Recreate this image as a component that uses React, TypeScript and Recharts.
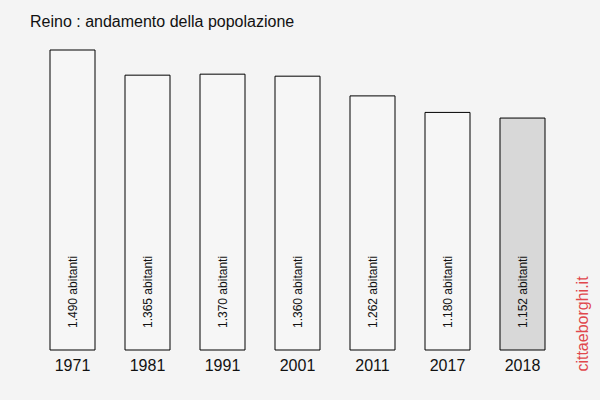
import React from 'react';
import { BarChart, Bar, XAxis, YAxis, Cell, LabelList } from 'recharts';

const years = ['1971', '1981', '1991', '2001', '2011', '2017', '2018'];
const population = [1490, 1365, 1370, 1360, 1262, 1180, 1152];

const data = years.map((year, i) => ({ year, value: population[i] }));

const FONT = '"Liberation Sans", Arial, sans-serif';

const fmt = (v: number) => v.toLocaleString('it-IT') + ' abitanti';

const renderLabel = (props: any) => {
    const { x, y, width, height, value } = props;
    const cx = x + width / 2 + 4;
    const bottom = y + height - 22;
    return (
        <text
            x={cx}
            y={bottom}
            transform={`rotate(-90, ${cx}, ${bottom})`}
            fontSize={12}
            fontFamily={FONT}
            fill="#111"
            textAnchor="start"
        >
            {fmt(Number(value))}
        </text>
    );
};

export default function App() {
    return (
        <div style={{ position: 'absolute', left: 0, top: 0, width: 600, height: 400, background: '#f4f4f4', fontFamily: FONT }}>
            <div style={{ position: 'absolute', left: 30, top: 13, fontSize: 16, color: '#111' }}>
                Reino : andamento della popolazione
            </div>
            <BarChart
                width={600}
                height={400}
                data={data}
                margin={{ top: 50, right: 40, left: 35, bottom: 20 }}
                barCategoryGap="20%"
            >
                <XAxis
                    dataKey="year"
                    axisLine={false}
                    tickLine={false}
                    height={30}
                    tick={{ fill: '#111', fontSize: 16, fontFamily: FONT }}
                    tickMargin={4}
                    interval={0}
                />
                <YAxis hide domain={[0, 1490]} />
                <Bar dataKey="value" stroke="#000" strokeWidth={1} isAnimationActive={false}>
                    {data.map((entry, index) => (
                        <Cell key={`cell-${index}`} fill={index === data.length - 1 ? '#d8d8d8' : '#f6f6f6'} />
                    ))}
                    <LabelList dataKey="value" content={renderLabel} />
                </Bar>
            </BarChart>
            <div
                style={{
                    position: 'absolute',
                    left: 583,
                    top: 324,
                    transform: 'translate(-50%, -50%) rotate(-90deg)',
                    color: '#e0474c',
                    fontSize: 16,
                    whiteSpace: 'nowrap',
                }}
            >
                cittaeborghi.it
            </div>
        </div>
    );
}
